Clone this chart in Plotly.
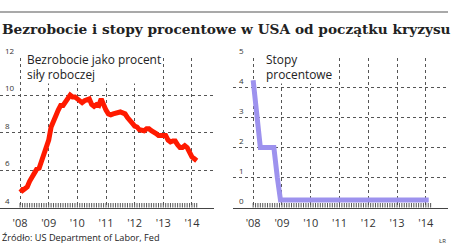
import plotly.graph_objects as go

W, H = 458, 246

# ---- data ----
years = [2008, 2009, 2010, 2011, 2012, 2013, 2014]
year_labels = ["'08", "'09", "'10", "'11", "'12", "'13", "'14"]

unemp = [5.0, 4.9, 5.0, 5.1, 5.4, 5.6, 5.9, 6.05, 6.1, 6.5, 6.8, 7.2,
         7.6, 8.3, 8.7, 8.9, 9.2, 9.45, 9.45, 9.6, 9.8, 10.0, 9.9, 9.9,
         9.8, 9.7, 9.6, 9.7, 9.75, 9.8, 9.5, 9.4, 9.5, 9.45, 9.8, 9.4,
         9.2, 9.0, 8.95, 9.0, 9.05, 9.1, 9.1, 9.05, 9.0, 8.8, 8.6, 8.5,
         8.35, 8.3, 8.15, 8.1, 8.1, 8.2, 8.2, 8.1, 8.05, 7.95, 7.85, 7.85,
         7.9, 7.85, 7.6, 7.5, 7.55, 7.55, 7.35, 7.2, 7.2, 7.3, 7.2, 6.9,
         6.7, 6.6, 6.5]
unemp_x = [2008 + i / 12 for i in range(len(unemp))]

rate_x = [2008.0, 2008.115, 2008.14, 2008.25, 2008.72, 2008.81, 2008.84, 2008.95, 2014.1]
rate_y = [4.25, 3.0, 3.0, 2.0, 2.0, 1.0, 1.0, 0.25, 0.25]

month_ticks = [2008 + i / 12 for i in range(0, 75)]

left_ticks = [4, 6, 8, 10, 12]
right_ticks = [0, 1, 2, 3, 4, 5]

title = "Bezrobocie i stopy procentowe w USA od początku kryzysu"
label_left = "Bezrobocie jako procent<br>siły roboczej"
label_right = "Stopy<br>procentowe"
source = "Źródło: US Department of Labor, Fed"
credit = "ŁR"

# ---- layout helpers ----
def px_x(p):
    return p / W

def px_y(p):
    return 1 - p / H

xrange_ = [2007.30, 2014.77]
dom_left = [px_x(0), px_x(214)]
dom_right = [px_x(233), px_x(448)]
dom_y = [px_y(207.5), px_y(57.7)]

TXT = "#333333"
GRID = "#555555"
FONT = "Open Sans"

fig = go.Figure()
fig.add_trace(go.Scatter(x=unemp_x, y=unemp, mode="lines",
                         line=dict(color="#ff1a00", width=5),
                         xaxis="x", yaxis="y"))
fig.add_trace(go.Scatter(x=rate_x, y=rate_y, mode="lines",
                         line=dict(color="#9d92ee", width=5),
                         xaxis="x2", yaxis="y2"))

xcommon = dict(range=xrange_, tickvals=years, ticktext=year_labels,
               showgrid=True, gridcolor=GRID, griddash="dot", gridwidth=1,
               showline=True, linecolor="#444444", linewidth=1,
               ticklabelstandoff=5,
               tickfont=dict(family=FONT, size=11, color=TXT))
ycommon = dict(showgrid=True, gridcolor=GRID, griddash="dot", gridwidth=1,
               showticklabels=False, domain=dom_y)

shapes = [dict(type="line", xref="paper", yref="paper",
               x0=0, x1=px_x(448), y0=px_y(12), y1=px_y(12),
               line=dict(color="#8c8c8c", width=1.5))]
# monthly minor ticks above the x axis lines
for xa, ya in (("x", "y domain"), ("x2", "y2 domain")):
    for m in month_ticks:
        shapes.append(dict(type="line", xref=xa, yref=ya, x0=m, x1=m,
                           y0=0, y1=0.03,
                           line=dict(color="#555555", width=1)))

annotations = [
    dict(text="<b>" + title + "</b>", xref="paper", yref="paper",
         x=0, y=px_y(29), xanchor="left", yanchor="middle", showarrow=False,
         font=dict(family="DejaVu Serif", size=13.7, color="#222222")),
    dict(text=source, xref="paper", yref="paper", x=0, y=px_y(237.5),
         xanchor="left", yanchor="middle", showarrow=False,
         font=dict(family=FONT, size=9.2, color="#222222")),
    dict(text=credit, xref="paper", yref="paper", x=px_x(442), y=px_y(241),
         xanchor="center", yanchor="middle", showarrow=False,
         font=dict(family=FONT, size=6, color="#333333")),
]
for txt, x0 in ((label_left, 25), (label_right, 264)):
    annotations.append(dict(text=txt, xref="paper", yref="paper",
                            x=px_x(x0), y=px_y(48.5), xanchor="left", yanchor="top",
                            align="left", showarrow=False,
                            bgcolor="white", borderpad=1,
                            font=dict(family=FONT, size=11.9, color="#222222")))
for ticks, ya, x0 in ((left_ticks, "y", 3), (right_ticks, "y2", 237)):
    for v in ticks:
        annotations.append(dict(text=str(v), xref="paper", yref=ya,
                                x=px_x(x0), y=v, xanchor="left", yanchor="middle",
                                yshift=7.5, showarrow=False,
                                font=dict(family=FONT, size=8, color=TXT)))

fig.update_layout(
    width=W, height=H,
    margin=dict(l=0, r=0, t=0, b=0),
    plot_bgcolor="white",
    showlegend=False,
    xaxis=dict(domain=dom_left, anchor="y", **xcommon),
    xaxis2=dict(domain=dom_right, anchor="y2", **xcommon),
    yaxis=dict(anchor="x", range=[4, 12], dtick=2, tick0=4, **ycommon),
    yaxis2=dict(anchor="x2", range=[0, 5], dtick=1, tick0=0, **ycommon),
    shapes=shapes,
    annotations=annotations,
)

fig.write_html("out.html")
